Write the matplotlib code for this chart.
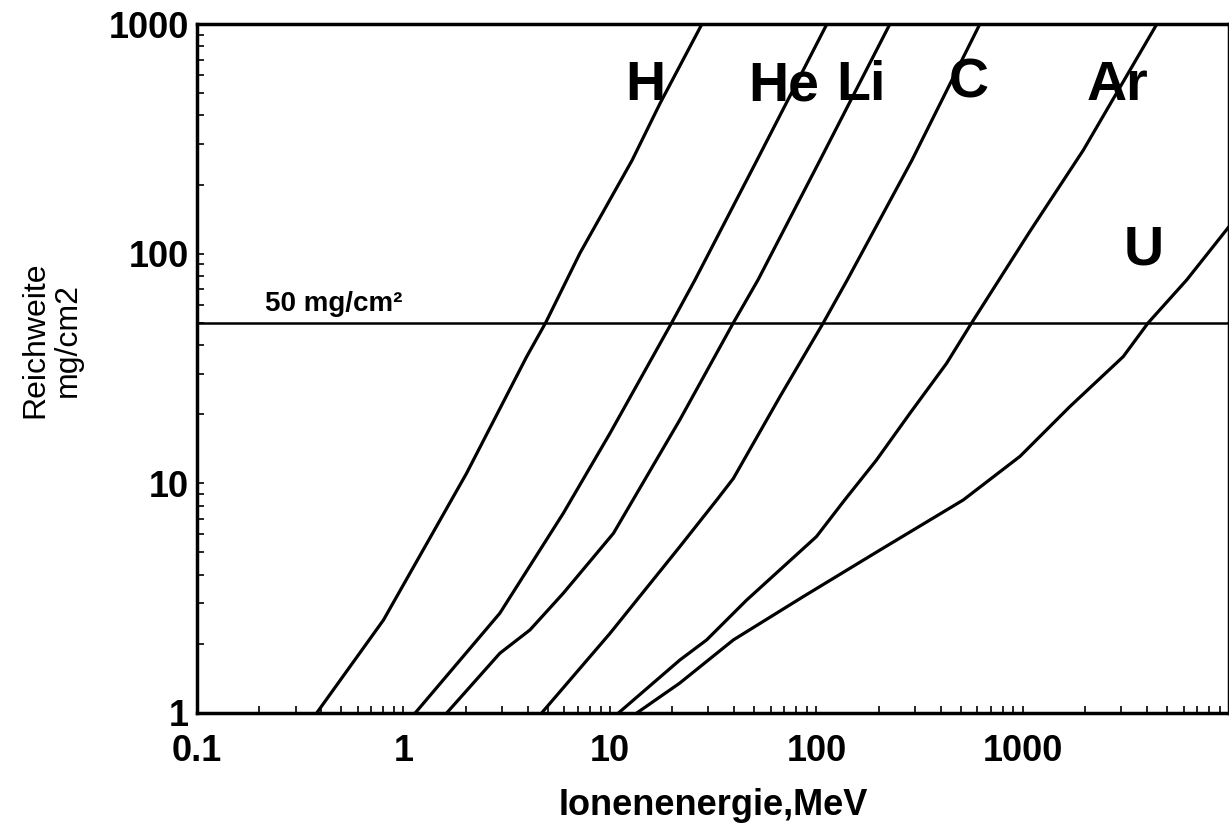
import matplotlib
matplotlib.use('Agg')
import matplotlib.pyplot as plt
from matplotlib.ticker import LogLocator, NullFormatter

# Reichweite (mg/cm2) ueber Ionenenergie (MeV)
h_energy = [0.38, 0.80, 2.02, 3.95, 4.88, 7.16, 12.8, 17.5, 27.9]
h_range = [1, 2.54, 11.05, 35.6, 50, 100.6, 255, 452, 1000]

he_energy = [1.14, 2.93, 5.94, 10.0, 19.9, 25.8, 51.5, 112.4]
he_range = [1, 2.72, 7.40, 16.5, 50, 76.8, 255, 1000]

li_energy = [1.62, 2.93, 4.10, 5.94, 10.4, 21.8, 39.6, 52.1, 104, 227]
li_range = [1, 1.82, 2.30, 3.32, 6.06, 18.9, 50, 76.8, 255, 1000]

c_energy = [4.67, 10.0, 21.8, 32.9, 39.6, 66.5, 108, 141, 290, 619]
c_range = [1, 2.22, 5.30, 8.46, 10.5, 23.8, 50, 76.8, 255, 1000]

ar_energy = [11.0, 21.8, 29.4, 45.9, 100, 137, 195, 284, 427, 565, 1081, 1960, 4456]
ar_range = [1, 1.70, 2.08, 3.10, 5.86, 8.46, 12.6, 20.2, 33.3, 50, 125, 282, 1000]

u_energy = [13.5, 21.8, 39.6, 86.3, 203, 514, 968, 1690, 3060, 4045, 6210, 9950]
u_range = [1, 1.35, 2.08, 3.21, 5.12, 8.46, 13.1, 21.6, 35.6, 50, 76.8, 131]

ions = ['H', 'He', 'Li', 'C', 'Ar', 'U']
label_x = [14.8, 69.6, 165, 545, 2870, 3835]
label_y = [537, 537, 537, 553, 537, 103]

x_ticks = [0.1, 1, 10, 100, 1000, 10000]
x_ticklabels = ['0.1', '1', '10', '100', '1000', '']
y_ticks = [1, 10, 100, 1000]
y_ticklabels = ['1', '10', '100', '1000']

limit = 50  # mg/cm2

narrow = ['Liberation Sans Narrow', 'Liberation Sans', 'DejaVu Sans']
plain = ['Liberation Sans', 'DejaVu Sans']

fig = plt.figure(figsize=(12.29, 8.25), dpi=100)
ax = fig.add_axes([0.1603, 0.1358, 0.8400, 0.8351])

curves = [(h_energy, h_range), (he_energy, he_range), (li_energy, li_range),
          (c_energy, c_range), (ar_energy, ar_range), (u_energy, u_range)]
for e, r in curves:
    ax.plot(e, r, color='black', lw=2.3, solid_joinstyle='round')

ax.axhline(limit, color='black', lw=1.8)
ax.text(0.213, 56.2, '50 mg/cm²', fontsize=20, fontweight='bold',
        family=plain, va='baseline', ha='left')

for name, lx, ly in zip(ions, label_x, label_y):
    ax.text(lx, ly, name, fontsize=40, fontweight='bold', family=narrow,
            ha='center', va='center')

ax.set_xscale('log')
ax.set_yscale('log')
ax.set_xlim(0.1, 10000)
ax.set_ylim(1, 1000)

ax.set_xticks(x_ticks, x_ticklabels)
ax.set_yticks(y_ticks, y_ticklabels)
ax.xaxis.set_minor_locator(LogLocator(base=10, subs=range(2, 10)))
ax.yaxis.set_minor_locator(LogLocator(base=10, subs=range(2, 10)))
ax.xaxis.set_minor_formatter(NullFormatter())
ax.yaxis.set_minor_formatter(NullFormatter())
ax.tick_params(which='both', direction='in', top=False, right=False,
               width=1.2, length=5)
ax.tick_params(axis='x', which='major', pad=15)
ax.tick_params(axis='y', which='major', pad=6)
for lab in ax.get_xticklabels() + ax.get_yticklabels():
    lab.set_fontsize(26)
    lab.set_fontweight('bold')
    lab.set_family(narrow)

for sp in ax.spines.values():
    sp.set_linewidth(2.5)

ax.set_xlabel('Ionenenergie,MeV', fontsize=26, fontweight='bold',
              family=narrow, labelpad=14)
fig.text(52 / 1229, 1 - 340 / 825, 'Reichweite\nmg/cm2', rotation=90,
         fontsize=23, family=plain, linespacing=1.1,
         ha='center', va='center', multialignment='center')

fig.savefig('out.png', dpi=100)
